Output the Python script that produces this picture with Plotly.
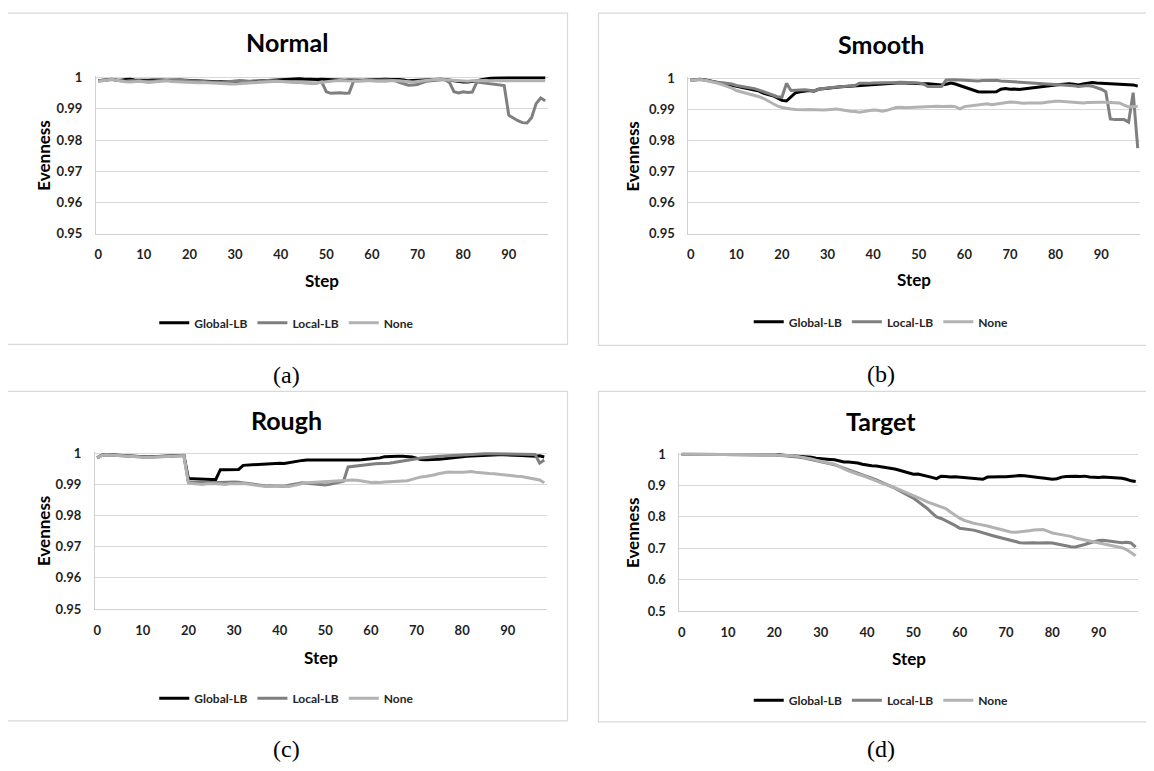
import plotly.graph_objects as go

# ---------------- data ----------------
steps = list(range(99))
x_tick_vals = [0, 10, 20, 30, 40, 50, 60, 70, 80, 90]
x_tick_text = ["0", "10", "20", "30", "40", "50", "60", "70", "80", "90"]

y_ticks_fine = [0.95, 0.96, 0.97, 0.98, 0.99, 1.0]
y_ticklabels_fine = ["0.95", "0.96", "0.97", "0.98", "0.99", "1"]
y_ticks_target = [0.5, 0.6, 0.7, 0.8, 0.9, 1.0]
y_ticklabels_target = ["0.5", "0.6", "0.7", "0.8", "0.9", "1"]

series_names = ["Global-LB", "Local-LB", "None"]
panel_titles = ["Normal", "Smooth", "Rough", "Target"]
captions = ["(a)", "(b)", "(c)", "(d)"]

normal_global = [
    0.9990, 0.9992, 0.9994, 0.9995, 0.9993, 0.9992, 0.9994, 0.9995, 0.9993, 0.9992,
    0.9991, 0.9992, 0.9993, 0.9994, 0.9993, 0.9992, 0.9993, 0.9994, 0.9993, 0.9992,
    0.9991, 0.9990, 0.9989, 0.9990, 0.9989, 0.9988, 0.9987, 0.9987, 0.9986, 0.9986,
    0.9987, 0.9986, 0.9987, 0.9988, 0.9989, 0.9990, 0.9991, 0.9992, 0.9993, 0.9993,
    0.9994, 0.9995, 0.9996, 0.9996, 0.9997, 0.9996, 0.9995, 0.9994, 0.9994, 0.9995,
    0.9994, 0.9993, 0.9994, 0.9993, 0.9992, 0.9993, 0.9992, 0.9993, 0.9992, 0.9993,
    0.9994, 0.9995, 0.9996, 0.9995, 0.9994, 0.9995, 0.9994, 0.9993, 0.9990, 0.9991,
    0.9992, 0.9993, 0.9994, 0.9995, 0.9996, 0.9995, 0.9994, 0.9992, 0.9989, 0.9987,
    0.9986, 0.9986, 0.9987, 0.9990, 0.9994, 0.9997, 0.9998, 0.9999, 1.0000, 1.0000,
    1.0000, 1.0000, 1.0000, 1.0000, 1.0000, 1.0000, 1.0000, 1.0000, 1.0000]
normal_local = [
    0.9990, 0.9992, 0.9994, 0.9994, 0.9992, 0.9990, 0.9989, 0.9990, 0.9991, 0.9990,
    0.9989, 0.9988, 0.9989, 0.9990, 0.9991, 0.9992, 0.9993, 0.9993, 0.9992, 0.9991,
    0.9990, 0.9989, 0.9988, 0.9987, 0.9986, 0.9985, 0.9984, 0.9985, 0.9986, 0.9988,
    0.9990, 0.9991, 0.9990, 0.9988, 0.9987, 0.9988, 0.9990, 0.9991, 0.9990, 0.9989,
    0.9988, 0.9987, 0.9985, 0.9984, 0.9983, 0.9984, 0.9983, 0.9982, 0.9983, 0.9987,
    0.9955, 0.9950, 0.9951, 0.9952, 0.9950, 0.9951, 0.9990, 0.9989, 0.9990, 0.9991,
    0.9992, 0.9993, 0.9994, 0.9993, 0.9992, 0.9991, 0.9985, 0.9980, 0.9976, 0.9977,
    0.9978, 0.9984, 0.9989, 0.9990, 0.9991, 0.9993, 0.9994, 0.9985, 0.9955, 0.9951,
    0.9955, 0.9953, 0.9954, 0.9986, 0.9984, 0.9981, 0.9980, 0.9978, 0.9976, 0.9975,
    0.9880, 0.9870, 0.9862, 0.9856, 0.9855, 0.9872, 0.9917, 0.9935, 0.9926]
normal_none = [
    0.9988, 0.9990, 0.9993, 0.9995, 0.9992, 0.9989, 0.9987, 0.9986, 0.9988, 0.9989,
    0.9987, 0.9985, 0.9986, 0.9988, 0.9989, 0.9990, 0.9988, 0.9987, 0.9986, 0.9985,
    0.9986, 0.9985, 0.9984, 0.9985, 0.9984, 0.9983, 0.9981, 0.9980, 0.9979, 0.9980,
    0.9980, 0.9981, 0.9982, 0.9984, 0.9985, 0.9987, 0.9988, 0.9987, 0.9988, 0.9989,
    0.9988, 0.9987, 0.9986, 0.9985, 0.9984, 0.9983, 0.9982, 0.9983, 0.9984, 0.9986,
    0.9988, 0.9989, 0.9990, 0.9991, 0.9990, 0.9989, 0.9988, 0.9989, 0.9990, 0.9991,
    0.9990, 0.9989, 0.9988, 0.9989, 0.9990, 0.9991, 0.9990, 0.9989, 0.9987, 0.9986,
    0.9988, 0.9990, 0.9992, 0.9994, 0.9995, 0.9994, 0.9993, 0.9991, 0.9990, 0.9989,
    0.9988, 0.9989, 0.9990, 0.9991, 0.9992, 0.9991, 0.9990, 0.9990, 0.9990, 0.9990,
    0.9990, 0.9990, 0.9990, 0.9990, 0.9990, 0.9990, 0.9990, 0.9990, 0.9990]

smooth_global = [
    0.9995, 0.9997, 0.9998, 0.9997, 0.9994, 0.9991, 0.9988, 0.9985, 0.9982, 0.9979,
    0.9975, 0.9972, 0.9970, 0.9968, 0.9965, 0.9960, 0.9953, 0.9950, 0.9945, 0.9938,
    0.9930, 0.9928, 0.9940, 0.9955, 0.9958, 0.9960, 0.9962, 0.9960, 0.9966, 0.9968,
    0.9970, 0.9971, 0.9973, 0.9974, 0.9975, 0.9976, 0.9978, 0.9980, 0.9981, 0.9982,
    0.9983, 0.9983, 0.9984, 0.9985, 0.9986, 0.9986, 0.9987, 0.9986, 0.9985, 0.9985,
    0.9985, 0.9984, 0.9984, 0.9983, 0.9982, 0.9980, 0.9982, 0.9986, 0.9983, 0.9978,
    0.9973, 0.9968, 0.9962, 0.9958, 0.9957, 0.9957, 0.9957, 0.9958, 0.9966, 0.9968,
    0.9966, 0.9967, 0.9965, 0.9967, 0.9970, 0.9971, 0.9972, 0.9974, 0.9976, 0.9978,
    0.9980, 0.9981, 0.9983, 0.9984, 0.9982, 0.9980, 0.9983, 0.9986, 0.9988, 0.9986,
    0.9985, 0.9984, 0.9984, 0.9983, 0.9983, 0.9982, 0.9981, 0.9980, 0.9976]
smooth_local = [
    0.9995, 0.9997, 0.9998, 0.9996, 0.9993, 0.9990, 0.9988, 0.9987, 0.9985, 0.9983,
    0.9978, 0.9976, 0.9974, 0.9972, 0.9968, 0.9963, 0.9958, 0.9954, 0.9948, 0.9942,
    0.9940, 0.9985, 0.9962, 0.9963, 0.9962, 0.9964, 0.9963, 0.9960, 0.9966, 0.9967,
    0.9970, 0.9972, 0.9973, 0.9975, 0.9976, 0.9976, 0.9978, 0.9985, 0.9984, 0.9985,
    0.9986, 0.9986, 0.9987, 0.9987, 0.9988, 0.9988, 0.9989, 0.9989, 0.9988, 0.9987,
    0.9986, 0.9983, 0.9975, 0.9975, 0.9976, 0.9975, 0.9996, 0.9997, 0.9997, 0.9996,
    0.9995, 0.9994, 0.9994, 0.9993, 0.9994, 0.9995, 0.9996, 0.9995, 0.9993, 0.9992,
    0.9991, 0.9990, 0.9990, 0.9989, 0.9989, 0.9988, 0.9987, 0.9986, 0.9985, 0.9984,
    0.9983, 0.9981, 0.9979, 0.9978, 0.9977, 0.9975, 0.9977, 0.9978, 0.9976, 0.9972,
    0.9966, 0.9958, 0.9870, 0.9868, 0.9869, 0.9868, 0.9860, 0.9955, 0.9776]
smooth_none = [
    0.9995, 0.9997, 0.9997, 0.9995, 0.9992, 0.9989, 0.9985, 0.9980, 0.9976, 0.9970,
    0.9962, 0.9958, 0.9955, 0.9952, 0.9948, 0.9942, 0.9936, 0.9928, 0.9920, 0.9912,
    0.9907, 0.9904, 0.9902, 0.9901, 0.9900, 0.9900, 0.9901, 0.9900, 0.9900, 0.9899,
    0.9900, 0.9901, 0.9902, 0.9900, 0.9897, 0.9895, 0.9894, 0.9892, 0.9894, 0.9897,
    0.9899, 0.9898, 0.9895, 0.9898, 0.9902, 0.9907, 0.9908, 0.9906, 0.9907, 0.9908,
    0.9907, 0.9908, 0.9909, 0.9910, 0.9911, 0.9910, 0.9911, 0.9911, 0.9910, 0.9903,
    0.9910, 0.9912, 0.9914, 0.9915, 0.9917, 0.9919, 0.9916, 0.9918, 0.9920, 0.9923,
    0.9925, 0.9924, 0.9922, 0.9921, 0.9922, 0.9922, 0.9921, 0.9922, 0.9924, 0.9926,
    0.9927, 0.9927, 0.9926, 0.9924, 0.9922, 0.9921, 0.9922, 0.9923, 0.9924, 0.9924,
    0.9924, 0.9924, 0.9924, 0.9923, 0.9922, 0.9915, 0.9909, 0.9910, 0.9910]

rough_global = [
    0.9985, 0.9994, 0.9996, 0.9995, 0.9993, 0.9992, 0.9992, 0.9991, 0.9990, 0.9990,
    0.9989, 0.9988, 0.9989, 0.9990, 0.9991, 0.9991, 0.9992, 0.9992, 0.9993, 0.9993,
    0.9918, 0.9918, 0.9917, 0.9917, 0.9917, 0.9916, 0.9916, 0.9947, 0.9947, 0.9947,
    0.9947, 0.9948, 0.9961, 0.9962, 0.9962, 0.9962, 0.9963, 0.9964, 0.9966, 0.9967,
    0.9968, 0.9967, 0.9970, 0.9973, 0.9975, 0.9977, 0.9978, 0.9978, 0.9977, 0.9976,
    0.9976, 0.9976, 0.9976, 0.9977, 0.9977, 0.9977, 0.9978, 0.9978, 0.9979, 0.9980,
    0.9981, 0.9982, 0.9985, 0.9989, 0.9990, 0.9990, 0.9990, 0.9990, 0.9990, 0.9988,
    0.9984, 0.9980, 0.9979, 0.9979, 0.9980, 0.9981, 0.9982, 0.9984, 0.9986, 0.9988,
    0.9989, 0.9990, 0.9991, 0.9992, 0.9993, 0.9994, 0.9994, 0.9994, 0.9995, 0.9995,
    0.9995, 0.9994, 0.9993, 0.9993, 0.9992, 0.9991, 0.9990, 0.9992, 0.9988]
rough_local = [
    0.9985, 0.9993, 0.9995, 0.9994, 0.9992, 0.9991, 0.9990, 0.9990, 0.9989, 0.9989,
    0.9988, 0.9987, 0.9988, 0.9989, 0.9990, 0.9990, 0.9991, 0.9991, 0.9992, 0.9993,
    0.9906, 0.9905, 0.9906, 0.9907, 0.9906, 0.9905, 0.9906, 0.9906, 0.9907, 0.9908,
    0.9908, 0.9907, 0.9905, 0.9902, 0.9900, 0.9898, 0.9896, 0.9895, 0.9896, 0.9895,
    0.9895, 0.9894, 0.9897, 0.9900, 0.9903, 0.9905, 0.9904, 0.9903, 0.9901, 0.9899,
    0.9898, 0.9900, 0.9903, 0.9906, 0.9910, 0.9956, 0.9958, 0.9960, 0.9961, 0.9962,
    0.9965, 0.9966, 0.9967, 0.9967, 0.9968, 0.9970, 0.9972, 0.9974, 0.9976, 0.9979,
    0.9982, 0.9985, 0.9987, 0.9988, 0.9989, 0.9990, 0.9991, 0.9992, 0.9993, 0.9994,
    0.9995, 0.9996, 0.9997, 0.9997, 0.9998, 0.9998, 0.9998, 0.9998, 0.9998, 0.9998,
    0.9998, 0.9998, 0.9998, 0.9998, 0.9998, 0.9997, 0.9996, 0.9968, 0.9978]
rough_none = [
    0.9985, 0.9993, 0.9995, 0.9994, 0.9992, 0.9990, 0.9990, 0.9989, 0.9988, 0.9987,
    0.9986, 0.9986, 0.9987, 0.9988, 0.9989, 0.9990, 0.9990, 0.9991, 0.9991, 0.9992,
    0.9904, 0.9903, 0.9901, 0.9900, 0.9902, 0.9903, 0.9902, 0.9901, 0.9900, 0.9902,
    0.9903, 0.9904, 0.9903, 0.9901, 0.9899, 0.9897, 0.9894, 0.9893, 0.9894, 0.9896,
    0.9895, 0.9894, 0.9893, 0.9896, 0.9900, 0.9903, 0.9905, 0.9906, 0.9907, 0.9908,
    0.9907, 0.9908, 0.9910, 0.9911, 0.9912, 0.9913, 0.9914, 0.9913, 0.9910, 0.9908,
    0.9906, 0.9907, 0.9906, 0.9908, 0.9909, 0.9910, 0.9910, 0.9911, 0.9912, 0.9916,
    0.9921, 0.9924, 0.9925, 0.9927, 0.9931, 0.9935, 0.9938, 0.9940, 0.9939, 0.9938,
    0.9939, 0.9940, 0.9941, 0.9939, 0.9937, 0.9936, 0.9935, 0.9934, 0.9932, 0.9931,
    0.9929, 0.9927, 0.9926, 0.9925, 0.9922, 0.9920, 0.9918, 0.9914, 0.9905]

target_global = [
    1.000, 1.000, 1.000, 1.000, 1.000, 1.000, 1.000, 1.000, 1.000, 1.000,
    1.000, 1.000, 1.000, 1.000, 1.000, 1.000, 0.999, 0.999, 0.999, 0.998,
    0.998, 0.998, 0.997, 0.996, 0.996, 0.995, 0.993, 0.992, 0.990, 0.987,
    0.985, 0.984, 0.983, 0.982, 0.978, 0.975, 0.975, 0.974, 0.972, 0.968,
    0.965, 0.963, 0.962, 0.960, 0.958, 0.956, 0.953, 0.949, 0.944, 0.940,
    0.936, 0.937, 0.934, 0.930, 0.926, 0.922, 0.930, 0.929, 0.927, 0.928,
    0.927, 0.926, 0.924, 0.923, 0.921, 0.920, 0.927, 0.928, 0.927, 0.928,
    0.928, 0.930, 0.931, 0.932, 0.931, 0.930, 0.928, 0.926, 0.924, 0.921,
    0.920, 0.922, 0.927, 0.929, 0.930, 0.930, 0.929, 0.930, 0.927, 0.926,
    0.926, 0.927, 0.926, 0.926, 0.925, 0.923, 0.920, 0.915, 0.913]
target_local = [
    1.000, 1.000, 1.000, 1.000, 1.000, 1.000, 1.000, 1.000, 1.000, 1.000,
    1.000, 1.000, 1.000, 1.000, 1.000, 1.000, 0.999, 0.999, 0.998, 0.998,
    0.998, 0.997, 0.996, 0.995, 0.993, 0.991, 0.989, 0.986, 0.983, 0.980,
    0.977, 0.974, 0.970, 0.966, 0.961, 0.956, 0.951, 0.945, 0.940, 0.935,
    0.930, 0.924, 0.918, 0.912, 0.906, 0.900, 0.892, 0.884, 0.876, 0.868,
    0.860, 0.849, 0.838, 0.827, 0.813, 0.800, 0.795, 0.788, 0.782, 0.773,
    0.764, 0.762, 0.761, 0.758, 0.754, 0.749, 0.745, 0.741, 0.737, 0.733,
    0.729, 0.724, 0.720, 0.718, 0.717, 0.718, 0.718, 0.717, 0.718, 0.718,
    0.717, 0.714, 0.709, 0.706, 0.705, 0.704, 0.707, 0.712, 0.717, 0.722,
    0.725, 0.726, 0.724, 0.720, 0.718, 0.718, 0.719, 0.717, 0.704]
target_none = [
    1.000, 1.000, 1.000, 1.000, 1.000, 1.000, 1.000, 1.000, 1.000, 1.000,
    1.000, 1.000, 1.000, 1.000, 1.000, 1.000, 0.999, 0.999, 0.999, 0.998,
    0.998, 0.997, 0.997, 0.996, 0.995, 0.993, 0.991, 0.988, 0.985, 0.981,
    0.977, 0.974, 0.971, 0.968, 0.960, 0.953, 0.947, 0.941, 0.936, 0.932,
    0.927, 0.921, 0.915, 0.909, 0.904, 0.900, 0.893, 0.887, 0.881, 0.875,
    0.868, 0.862, 0.855, 0.848, 0.843, 0.837, 0.832, 0.827, 0.816, 0.805,
    0.796, 0.789, 0.784, 0.780, 0.777, 0.775, 0.771, 0.767, 0.763, 0.760,
    0.756, 0.752, 0.751, 0.752, 0.755, 0.756, 0.758, 0.759, 0.760, 0.755,
    0.749, 0.746, 0.744, 0.742, 0.738, 0.733, 0.730, 0.727, 0.725, 0.721,
    0.718, 0.715, 0.712, 0.710, 0.706, 0.702, 0.696, 0.687, 0.676]

# ---------------- layout helpers ----------------
OFF = 8                      # page body margin in the browser
W, H = 1154 - OFF, 771 - OFF  # figure size so that page == window
FONT = "Lato"
line_colors = ["#000000", "#7f7f7f", "#b2b2b2"]


def fx(px):
    return (px - OFF) / W


def fy(py):
    return 1 - (py - OFF) / H


panels = [
    dict(series=[normal_global, normal_local, normal_none], ymin=0.95,
         yt=(y_ticks_fine, y_ticklabels_fine), L=95, R=547, T=72, B=231,
         box=(5, 6, 567, 344), cx=286, title_y=36, step_y=279, leg_y=322, cap_y=375, ev_x=43),
    dict(series=[smooth_global, smooth_local, smooth_none], ymin=0.95,
         yt=(y_ticks_fine, y_ticklabels_fine), L=688, R=1140, T=73, B=231,
         box=(598, 6, 1170, 345), cx=881, title_y=38, step_y=278, leg_y=321, cap_y=374, ev_x=632),
    dict(series=[rough_global, rough_local, rough_none], ymin=0.95,
         yt=(y_ticks_fine, y_ticklabels_fine), L=94, R=546, T=455, B=614,
         box=(5, 392, 567, 728), cx=286, title_y=421, step_y=663, leg_y=705, cap_y=757, ev_x=42),
    dict(series=[target_global, target_local, target_none], ymin=0.5,
         yt=(y_ticks_target, y_ticklabels_target), L=679, R=1138, T=456, B=616,
         box=(598, 392, 1170, 729), cx=881, title_y=422, step_y=664, leg_y=707, cap_y=757, ev_x=632),
]

fig = go.Figure()
layout = dict(width=W, height=H, margin=dict(l=0, r=0, t=0, b=0, pad=0),
              paper_bgcolor="white", plot_bgcolor="white", showlegend=True)
annotations = []
shapes = []

for k, p in enumerate(panels):
    sfx = "" if k == 0 else str(k + 1)
    xa, ya = "x" + sfx, "y" + sfx
    leg = "legend" + sfx
    for name, vals, col in zip(series_names, p["series"], line_colors):
        fig.add_trace(go.Scatter(x=steps, y=vals, mode="lines", name=name,
                                 line=dict(color=col, width=3),
                                 xaxis=xa, yaxis=ya, legend=leg, hoverinfo="skip"))
    ppu = (p["B"] - p["T"]) / (1.0 - p["ymin"])
    pad = 1.6 / ppu
    ytop_px = p["T"] - 1.6
    layout["xaxis" + sfx] = dict(
        domain=[fx(p["L"]), fx(p["R"])], anchor=ya, range=[-0.5, 98.5],
        tickmode="array", tickvals=x_tick_vals, ticktext=x_tick_text,
        showgrid=False, zeroline=False, showline=True, linecolor="#d0d0d0", linewidth=1,
        ticks="", ticklabelstandoff=9,
        tickfont=dict(family=FONT, size=13, color="#1f1f1f", weight="bold"))
    layout["yaxis" + sfx] = dict(
        domain=[fy(p["B"]), fy(ytop_px)], anchor=xa, range=[p["ymin"], 1.0 + pad],
        tickmode="array", tickvals=p["yt"][0], ticktext=p["yt"][1],
        showgrid=True, gridcolor="#d9d9d9", gridwidth=1, zeroline=False,
        showline=True, linecolor="#d0d0d0", linewidth=1, ticks="", ticklabelstandoff=10,
        tickfont=dict(family=FONT, size=13, color="#1f1f1f", weight="bold"))
    layout[leg] = dict(orientation="h", x=fx(p["cx"]), xanchor="center",
                       y=fy(p["leg_y"]), yanchor="middle",
                       font=dict(family=FONT, size=12, color="#262626", weight="bold"),
                       bgcolor="rgba(0,0,0,0)", itemwidth=30, tracegroupgap=0)
    x0, y0, x1, y1 = p["box"]
    shapes.append(dict(type="rect", xref="paper", yref="paper",
                       x0=fx(x0), x1=fx(x1), y0=fy(y1), y1=fy(y0),
                       line=dict(color="#d9d9d9", width=1.2), fillcolor="rgba(0,0,0,0)", layer="below"))
    annotations.append(dict(text=panel_titles[k], xref="paper", yref="paper",
                            x=fx(p["cx"]), y=fy(p["title_y"]), xanchor="center", yanchor="middle",
                            showarrow=False, font=dict(family=FONT, size=25, color="#000000", weight="bold")))
    annotations.append(dict(text="Step", xref="paper", yref="paper",
                            x=fx((p["L"] + p["R"]) / 2), y=fy(p["step_y"]),
                            xanchor="center", yanchor="middle", showarrow=False,
                            font=dict(family=FONT, size=17, color="#000000", weight="bold")))
    annotations.append(dict(text="Evenness", xref="paper", yref="paper", textangle=-90,
                            x=fx(p["ev_x"]), y=fy((p["T"] + p["B"]) / 2),
                            xanchor="center", yanchor="middle", showarrow=False,
                            font=dict(family=FONT, size=17, color="#000000", weight="bold")))
    annotations.append(dict(text=captions[k], xref="paper", yref="paper",
                            x=fx(p["cx"]), y=fy(p["cap_y"]), xanchor="center", yanchor="middle",
                            showarrow=False, font=dict(family="Liberation Serif", size=24, color="#000000")))

layout["annotations"] = annotations
layout["shapes"] = shapes
fig.update_layout(**layout)
fig.write_html("out.html")
